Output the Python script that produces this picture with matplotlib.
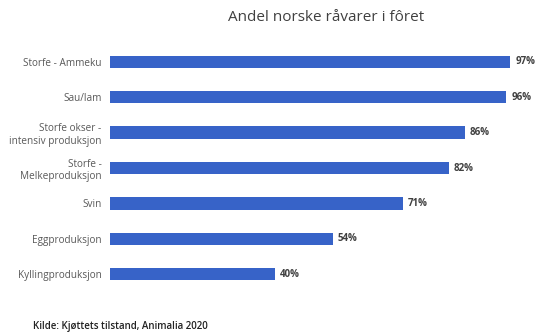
import matplotlib
matplotlib.use('Agg')
import matplotlib.pyplot as plt

# Data
categories = ['Storfe - Ammeku', 'Sau/lam', 'Storfe okser -\nintensiv produksjon',
              'Storfe -\nMelkeproduksjon', 'Svin', 'Eggproduksjon', 'Kyllingproduksjon']
values = [97, 96, 86, 82, 71, 54, 40]

title = 'Andel norske råvarer i fôret'
source = 'Kilde: Kjøttets tilstand, Animalia 2020'

plt.rcParams['font.family'] = ['Open Sans', 'DejaVu Sans']

fig = plt.figure(figsize=(5.39, 3.36), dpi=100)
ax = fig.add_axes([0.204, 0.131, 0.766, 0.738])

pos = list(range(len(categories)))
ax.barh(pos, values, height=0.35, color='#3763C8')
ax.set_ylim(len(categories) - 0.5, -0.5)
ax.set_xlim(0, 100)

ax.set_yticks(pos)
ax.set_yticklabels(categories, fontsize=7.2, color='#595959', linespacing=1.2)
ax.tick_params(axis='y', length=0, pad=6)
ax.set_xticks([])
for s in ax.spines.values():
    s.set_visible(False)

for p, v in zip(pos, values):
    ax.text(v + 1.2, p, f'{v}%', va='center', ha='left', fontsize=7,
            color='#404040', fontweight='bold', clip_on=False)

fig.text(0.605, 0.948, title, ha='center', va='center', fontsize=11, color='#404040')
fig.text(0.062, 0.027, source, ha='left', va='center', fontsize=7,
         color='#222222', fontweight='semibold')

fig.savefig('out.png', dpi=100)
